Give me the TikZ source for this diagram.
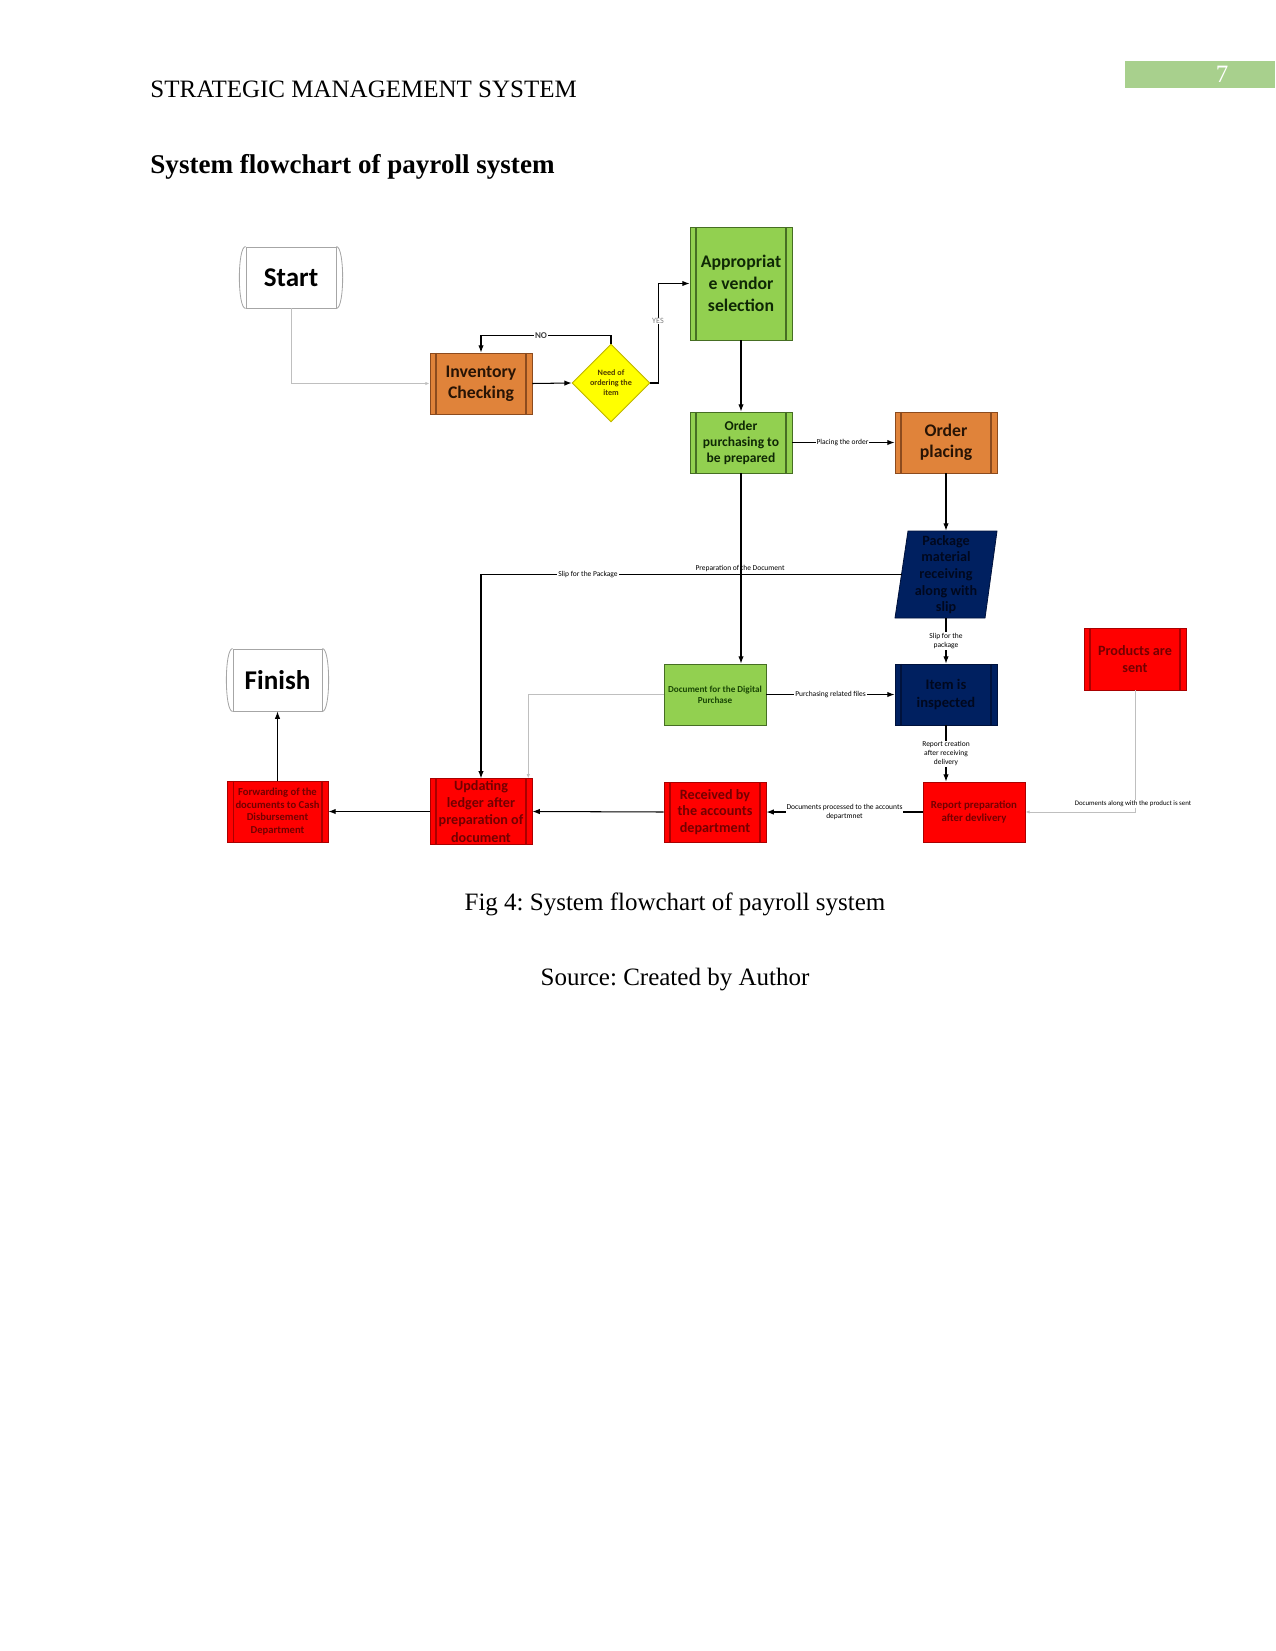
\documentclass[tikz,border=0pt]{standalone}
\usepackage{fontspec}
\setmainfont{Liberation Serif}
\newfontfamily\carl{Carlito}
\usetikzlibrary{arrows.meta,shapes.geometric}
\definecolor{orng}{RGB}{224,131,58}
\definecolor{orngd}{RGB}{140,75,30}
\definecolor{orngt}{RGB}{40,20,5}
\definecolor{grn}{RGB}{146,208,80}
\definecolor{grnd}{RGB}{70,110,35}
\definecolor{grnt}{RGB}{15,40,5}
\definecolor{grnt2}{RGB}{25,70,5}
\definecolor{rd}{RGB}{255,0,0}
\definecolor{rdd}{RGB}{170,0,0}
\definecolor{rdt}{RGB}{115,0,0}
\definecolor{nvy}{RGB}{0,32,96}
\definecolor{nvyd}{RGB}{0,18,60}
\definecolor{nvyt}{RGB}{0,8,30}
\definecolor{ylw}{RGB}{255,255,0}
\definecolor{ylwd}{RGB}{190,180,0}
\definecolor{ylwt}{RGB}{80,60,0}
\definecolor{pgbox}{RGB}{168,208,141}
\newcommand\fsz[2]{\fontsize{#1}{#2}\selectfont}
\frenchspacing
\begin{document}
\begin{tikzpicture}[x=0.48pt,y=-0.48pt,
  base/.style={rectangle, minimum width=49pt, minimum height=29.3pt, inner sep=1pt, align=center, line width=0.4pt},
  pp/.style={path picture={\draw[#1,line width=0.5pt] ([xshift=2.9pt]path picture bounding box.north west) -- ([xshift=2.9pt]path picture bounding box.south west) ([xshift=-2.9pt]path picture bounding box.north east) -- ([xshift=-2.9pt]path picture bounding box.south east);}},
  orbox/.style={base, fill=orng, draw=orngd, text=orngt, pp=orngd},
  grbox/.style={base, fill=grn, draw=grnd, text=grnt, pp=grnd},
  rdbox/.style={base, fill=rd, draw=rdd, text=rdt, pp=rdd},
  nvbox/.style={base, fill=nvy, draw=nvyd, text=nvyt, pp=nvyd},
  term/.style={rectangle, draw=gray!70, line width=0.4pt, minimum height=29.3pt, inner sep=1pt, font=\carl\bfseries\fsz{13}{15}},
  arr/.style={draw=black, line width=0.5pt, -{Latex[length=3.5pt,width=2.6pt]}},
  gline/.style={draw=gray!50, line width=0.4pt, -{Latex[length=2pt,width=1.6pt]}},
  lbl/.style={font=\carl\fsz{3.6}{4.3}, fill=white, inner sep=0.4pt, align=center, text=black}
]
\useasboundingbox (0,0) rectangle (1275,1651);
% page header
\fill[pgbox] (1125,61) rectangle (1275,88);
\node[anchor=base, text=white, font=\fsz{12}{14}, inner sep=0] (pgnum) at (1222,83) {7};
\node[anchor=base west, inner sep=0, font=\fsz{12}{14}] (hdr) at (150,98) {STRATEGIC MANAGEMENT SYSTEM};
\node[anchor=base west, inner sep=0, font=\bfseries\fsz{13}{15}] (ttl) at (150,174) {System flowchart of payroll system};
% terminators
\node[term, minimum width=43.2pt] (start) at (291,277.5) {Start};
\draw[gray!70, line width=0.4pt] (start.north west) .. controls ([xshift=-4pt]start.north west) and ([xshift=-4pt]start.south west) .. (start.south west);
\draw[gray!70, line width=0.4pt] (start.north east) .. controls ([xshift=4pt]start.north east) and ([xshift=4pt]start.south east) .. (start.south east);
\node[term, minimum width=42.7pt, minimum height=29.8pt] (fin) at (277.5,680) {Finish};
\draw[gray!70, line width=0.4pt] (fin.north west) .. controls ([xshift=-4pt]fin.north west) and ([xshift=-4pt]fin.south west) .. (fin.south west);
\draw[gray!70, line width=0.4pt] (fin.north east) .. controls ([xshift=4pt]fin.north east) and ([xshift=4pt]fin.south east) .. (fin.south east);
% process boxes
\node[orbox, font=\carl\bfseries\fsz{8.5}{10.3}] (inv) at (481,383.5) {Inventory\\Checking};
\node[diamond, draw=ylwd, fill=ylw, line width=0.4pt, minimum width=37.4pt, minimum height=37.4pt, inner sep=0pt,
  label={[font=\carl\bfseries\fsz{3.9}{4.8}, text=ylwt, align=center]center:Need of\\ordering the\\item}] (dia) at (611,383) {};
\node[grbox, minimum height=54.2pt, font=\carl\bfseries\fsz{8.5}{10.4}] (app) at (741,283.5) {Appropriat\\e vendor\\selection};
\node[grbox, font=\carl\bfseries\fsz{6.5}{7.7}] (op) at (741,442.5) {Order\\purchasing to\\be prepared};
\node[orbox, font=\carl\bfseries\fsz{8.5}{10.3}] (opl) at (946,442.5) {Order\\placing};
% parallelogram
\filldraw[fill=nvy, draw=nvyd, line width=0.4pt] (908,531) -- (997,531) -- (985,618) -- (895,618) -- cycle;
\node[align=center, inner sep=0pt, minimum height=41.76pt, text=nvyt, font=\carl\bfseries\fsz{6.8}{8}] (pkg) at (946,574.5) {Package\\material\\receiving\\along with\\slip};
\coordinate (pkgL) at (901.5,574.5);
\node[nvbox, font=\carl\bfseries\fsz{7}{8.2}] (item) at (946,694.5) {Item is\\inspected};
\node[rdbox, minimum height=29.8pt, font=\carl\bfseries\fsz{6.8}{8.2}] (prod) at (1135,659) {Products are\\sent};
\node[base, fill=grn, draw=grnd, text=grnt2, font=\carl\bfseries\fsz{4.4}{5.3}] (doc) at (715,694.5) {Document for the Digital\\Purchase};
\node[base, fill=rd, draw=rdd, text=rdt, minimum height=28.8pt, font=\carl\bfseries\fsz{5.2}{6.4}] (rep) at (974,812) {Report preparation\\after devlivery};
\node[rdbox, minimum height=28.8pt, font=\carl\bfseries\fsz{6.8}{7.8}] (rec) at (715,812) {Received by\\the accounts\\department};
\node[rdbox, font=\carl\bfseries\fsz{6.8}{8.2}] (upd) at (481,811.5) {Updating\\ledger after\\preparation of\\document};
\node[rdbox, minimum width=48.5pt, font=\carl\bfseries\fsz{5.1}{6}] (fwd) at (277.5,811.5) {Forwarding of the\\documents to Cash\\Disbursement\\Department};
% connectors
\draw[gline] (start.south) |- (inv.west);
\draw[arr] (inv.east) -- (dia.west);
\draw[arr] (dia.north) -- ++(0,-8) -| (inv.north);
\node[font=\carl\bfseries\fsz{4.3}{5}, fill=white, inner sep=0.4pt, text=black!75] (nolbl) at (541,336) {NO};
\draw[arr] (dia.east) -- ++(8,0) |- (app.west);
\node[font=\carl\fsz{3.9}{4.6}, fill=white, inner sep=0.4pt, text=gray] (yeslbl) at (658,321) {YES};
\draw[arr] (app.south) -- (op.north);
\draw[arr] (op.east) -- node[lbl, pos=0.49] (plo) {Placing the order} (opl.west);
\draw[arr] (opl.south) -- (pkg.north);
\draw[arr] (pkgL) -| (upd.north);
\node[lbl] (slipP) at (588,574.5) {Slip for the Package};
\node[lbl, fill=none, anchor=base] (prepD) at (740,570.5) {Preparation of the Document};
\draw[arr] (op.south) -- (op.south |- doc.north);
\draw[arr] (pkg.south) -- node[lbl] (slipp) {Slip for the\\package} (item.north);
\draw[arr] (doc.east) -- node[lbl] (prf) {Purchasing related files} (item.west);
\draw[gline] (doc.west) -| ([xshift=-2pt]upd.north east);
\draw[arr] (item.south) -- node[lbl] (rcd) {Report creation\\after receiving\\delivery} (item.south |- rep.north);
\draw[gline] (prod.south) |- (rep.east);
\node[lbl, font=\carl\fsz{3.3}{4}] (dap) at (1133,804) {Documents along with the product is sent};
\draw[arr] (rep.west) -- node[lbl] (dpa) {Documents processed to the accounts\\departmnet} (rec.east);
\draw[arr] (rec.west) -- (upd.east);
\draw[arr] (upd.west) -- (fwd.east);
\draw[arr] (fwd.north) -- (fin.south);
% caption
\node[anchor=base, inner sep=0, font=\fsz{12}{14}] (cap) at (675,910) {Fig 4: System flowchart of payroll system};
\node[anchor=base, inner sep=0, font=\fsz{12}{14}] (src) at (675,985) {Source: Created by Author};
\end{tikzpicture}
\end{document}
